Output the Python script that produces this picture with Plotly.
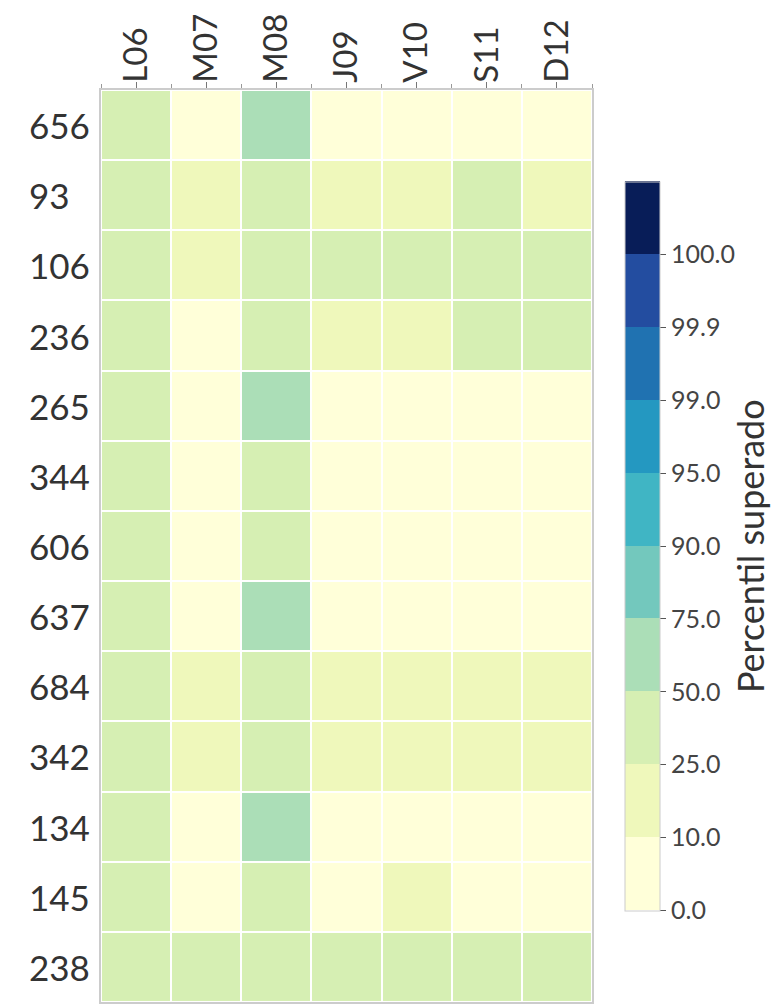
import numpy as np
import plotly.graph_objects as go

days = ["L06", "M07", "M08", "J09", "V10", "S11", "D12"]
stations = ["656", "93", "106", "236", "265", "344", "606", "637", "684", "342", "134", "145", "238"]

# percentile exceeded (estimated) per day, rows in station order
L06 = [38, 36, 40, 35, 37, 34, 33, 38, 40, 39, 36, 35, 42]
M07 = [4, 15, 18, 5, 3, 4, 3, 4, 16, 17, 5, 4, 30]
M08 = [58, 40, 42, 38, 60, 36, 37, 62, 41, 40, 60, 38, 44]
J09 = [3, 14, 30, 15, 4, 3, 3, 4, 18, 17, 5, 4, 32]
V10 = [3, 16, 32, 18, 5, 4, 4, 5, 20, 19, 6, 13, 34]
S11 = [2, 28, 35, 30, 4, 3, 3, 3, 17, 15, 4, 3, 31]
D12 = [4, 18, 33, 29, 5, 4, 4, 4, 19, 18, 5, 5, 33]

bounds = [0, 10, 25, 50, 75, 90, 95, 99, 99.9, 100]
bound_labels = ["0.0", "10.0", "25.0", "50.0", "75.0", "90.0", "95.0", "99.0", "99.9", "100.0"]
bin_colors = ["#ffffd9", "#eff8bb", "#d6efb3", "#abdeb7", "#73c8bd",
              "#40b5c4", "#2498c1", "#2072b1", "#234da0", "#081d58"]
colorbar_title = "Percentil superado"

values = np.array([L06, M07, M08, J09, V10, S11, D12], dtype=float).T
zbin = np.digitize(values, bounds[1:]).astype(float)

n = len(bin_colors)
colorscale = []
for i, c in enumerate(bin_colors):
    colorscale.append([i / n, c])
    colorscale.append([(i + 1) / n, c])

FONT = "Lato"

fig = go.Figure(go.Heatmap(
    z=zbin,
    x=list(range(len(days))),
    y=list(range(len(stations))),
    customdata=values,
    hovertemplate="%{customdata}<extra></extra>",
    colorscale=colorscale,
    zmin=0, zmax=n,
    xgap=2, ygap=2,
    colorbar=dict(
        tickvals=list(range(len(bounds))),
        ticktext=bound_labels,
        ticks="outside", ticklen=6, tickcolor="#555", tickwidth=1,
        tickfont=dict(family=FONT, size=25, color="#444"),
        thickness=35, thicknessmode="pixels",
        len=749, lenmode="pixels", ypad=10, xpad=0,
        x=1.067, xanchor="left", y=0.5, yanchor="middle",
        outlinecolor="#cccccc", outlinewidth=1,
    ),
))

# colorbar title as rotated text
fig.add_annotation(
    x=1.322, xref="paper", xanchor="center",
    y=0.5, yref="paper", yanchor="middle",
    text=colorbar_title, textangle=-90, showarrow=False,
    font=dict(family=FONT, size=36, color="#333"),
)

# left-aligned station labels
for i, s in enumerate(stations):
    fig.add_annotation(
        x=-0.151, xref="paper", xanchor="left",
        y=i, yref="y", yanchor="middle",
        text=s, showarrow=False,
        font=dict(family=FONT, size=35, color="#333"),
    )

# page body has an 8px margin: figure is shrunk so the plot lands at the same pixels
fig.update_layout(
    width=774, height=996,
    margin=dict(l=93, r=190, t=82, b=2, autoexpand=False),
    paper_bgcolor="white", plot_bgcolor="white",
    font=dict(family=FONT, color="#333"),
    xaxis=dict(
        side="top", range=[-0.5, len(days) - 0.5],
        tickvals=list(range(len(days))), ticktext=days,
        tickangle=-90, tickfont=dict(size=33, color="#333"),
        ticklabelstandoff=-7,
        ticks="outside", ticklen=6, tickcolor="#777", tickwidth=1,
        minor=dict(tick0=-0.5, dtick=1, ticks="outside", ticklen=4, tickcolor="#999"),
        showline=True, linecolor="#cccccc", linewidth=1.5, mirror=True,
        showgrid=False, zeroline=False, automargin=False,
    ),
    yaxis=dict(
        range=[len(stations) - 0.5, -0.5],
        tickvals=list(range(len(stations))),
        showticklabels=False, ticks="",
        showline=True, linecolor="#cccccc", linewidth=1.5, mirror=True,
        showgrid=False, zeroline=False, automargin=False,
    ),
)

fig.write_html("out.html")
